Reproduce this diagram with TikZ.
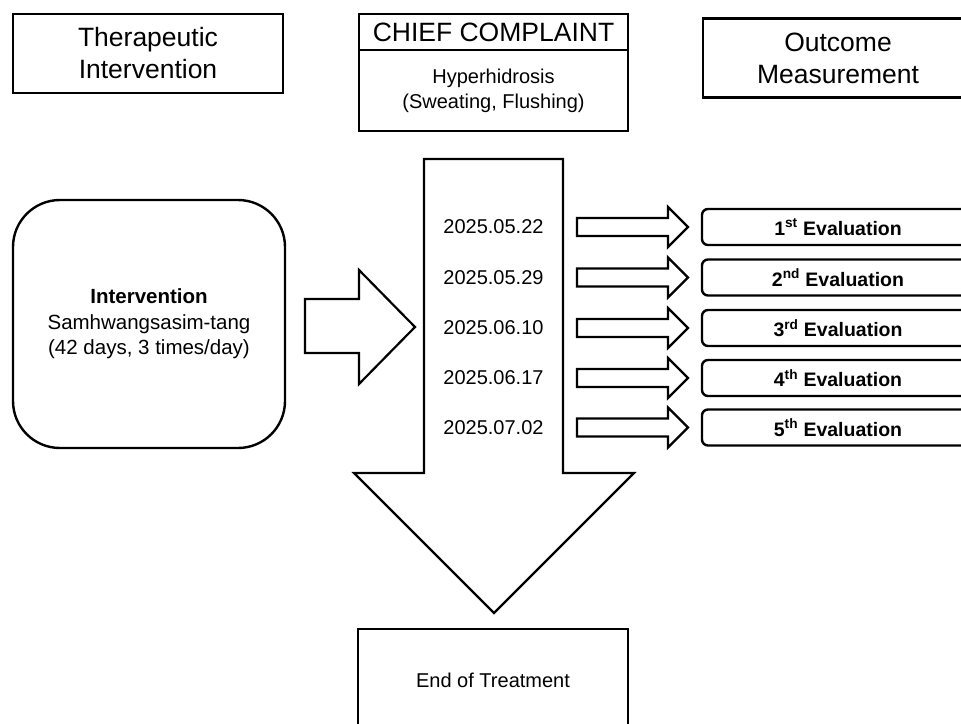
\documentclass[tikz,border=0pt]{standalone}
\usepackage{fontspec}
\setmainfont{Liberation Sans}
\usetikzlibrary{positioning}
\tikzset{
  every picture/.style={line width=2.2pt},
  titlebox/.style={draw, line width=2.6pt, minimum width=270, minimum height=79, inner sep=0pt, align=center, font=\fontsize{26.5}{32}\selectfont},
  infobox/.style={draw, line width=2.6pt, inner sep=0pt, align=center, font=\fontsize{20}{25}\selectfont},
  roundbox/.style={draw, line width=2.4pt, rounded corners=47, minimum width=272, minimum height=248, inner sep=0pt, align=center, font=\fontsize{20.5}{25.5}\selectfont},
  evalbox/.style={draw, line width=2.4pt, rounded corners=6, minimum width=272, minimum height=36, inner sep=0pt, font=\fontsize{19.5}{23}\selectfont\bfseries},
  datelabel/.style={inner sep=0pt, font=\fontsize{20}{24}\selectfont},
  blockarrow/.style={draw, fill=white, line width=2.2pt, line join=miter},
}

\begin{document}
\begin{tikzpicture}[x=1pt, y=-1pt]
  \useasboundingbox (0,0) rectangle (961,723);

  % header row
  \node[titlebox] (therapy) at (148,53.5) {Therapeutic\\Intervention};
  \node[titlebox, minimum width=269, minimum height=36, outer sep=0pt] (chief) at (493.5,32) {CHIEF COMPLAINT};
  \node[infobox, minimum width=269, minimum height=81, outer sep=0pt, below=0pt of chief] (complaint) {Hyperhidrosis\\(Sweating, Flushing)};
  \node[titlebox] (outcome) at (838,58) {Outcome\\Measurement};

  % main course of treatment
  \draw[blockarrow] (424,159) -- (563,159) -- (563,473) -- (634,473) -- (494,613)
    -- (354,473) -- (424,473) -- cycle;
  \node[roundbox] (interv) at (149,324) {\textbf{Intervention}\\Samhwangsasim-tang\\(42 days, 3 times/day)};
  \draw[blockarrow] (305,299) -- (359,299) -- (359,270) -- (415,327) -- (359,384)
    -- (359,353) -- (305,353) -- cycle;

  % visits and evaluations
  \foreach \i/\yy/\dt/\ord in {1/227/2025.05.22/st, 2/277.5/2025.05.29/nd,
      3/328/2025.06.10/rd, 4/378/2025.06.17/th, 5/427.5/2025.07.02/th} {
    \node[datelabel] (date\i) at (493.5,\yy) {\dt};
    \draw[blockarrow] (577,\yy-9) -- (668,\yy-9) -- (668,\yy-20) -- (688,\yy)
      -- (668,\yy+20) -- (668,\yy+9) -- (577,\yy+9) -- cycle;
    \node[evalbox] (eval\i) at (838,\yy) {\i\textsuperscript{\ord} Evaluation};
  }

  \node[infobox, minimum width=270, minimum height=102] (finish) at (493,680) {End of Treatment};
\end{tikzpicture}
\end{document}
